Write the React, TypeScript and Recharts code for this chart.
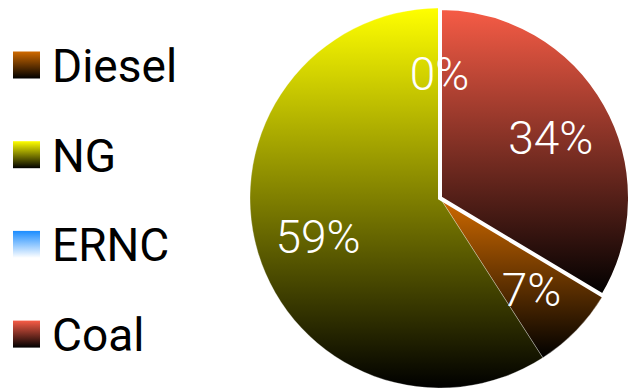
import { PieChart, Pie, Cell, Legend } from "recharts";

const sources = ["Diesel", "NG", "ERNC", "Coal"];
const shares = [7.3, 59.0, 0.1, 33.6];

const topColors = ["#d06a00", "#ffff00", "#1a8cff", "#f75c46"];
const bottomColors = ["#000000", "#000000", "#ffffff", "#000000"];

const data = sources.map((name, i) => ({ name, value: shares[i] }));

const FONT = "'Helvetica Neue', Roboto, 'Liberation Sans', Arial, sans-serif";

const RADIAN = Math.PI / 180;

const renderLabel = (props: any) => {
  const { cx, cy, midAngle, outerRadius, percent } = props;
  const r = outerRadius * 0.67;
  const x = cx + r * Math.cos(-midAngle * RADIAN);
  const y = cy + r * Math.sin(-midAngle * RADIAN) + 3;
  return (
    <text
      x={x}
      y={y}
      fill="#ffffff"
      textAnchor="middle"
      dominantBaseline="central"
      fontSize={46}
      fontWeight={300}
      fontFamily={FONT}
    >
      {`${Math.round(percent * 100)}%`}
    </text>
  );
};

const renderLegend = () => (
  <svg width={200} height={388}>
    <defs>
      {sources.map((s, i) => (
        <linearGradient key={s} id={`lg-${i}`} x1="0" y1="0" x2="0" y2="1">
          <stop offset="0%" stopColor={topColors[i]} />
          <stop offset="100%" stopColor={bottomColors[i]} />
        </linearGradient>
      ))}
    </defs>
    {sources.map((s, i) => {
      const cy = 65 + i * 89.7;
      return (
        <g key={s}>
          <rect x={13} y={cy - 13.5} width={27} height={27} fill={`url(#lg-${i})`} />
          <text
            x={52}
            y={cy + 17}
            fontSize={46}
            fontFamily={FONT}
            fill="#000000"
          >
            {s}
          </text>
        </g>
      );
    })}
  </svg>
);

export default function App() {
  const coalShare = shares[3] / shares.reduce((a, b) => a + b, 0);
  const start = 90 - 360 * coalShare;
  return (
    <div style={{ position: "absolute", left: 0, top: 0, background: "#fff" }}>
      <PieChart width={631} height={388} margin={{ top: 0, right: 0, bottom: 0, left: 0 }}>
        <defs>
          {sources.map((s, i) => (
            <linearGradient key={s} id={`pg-${i}`} x1="0" y1="0" x2="0" y2="1">
              <stop offset="0%" stopColor={topColors[i]} />
              <stop offset="100%" stopColor={bottomColors[i]} />
            </linearGradient>
          ))}
        </defs>
        <Legend
          layout="vertical"
          align="center"
          verticalAlign="middle"
          content={renderLegend}
          wrapperStyle={{ left: 0, top: 0, width: 200, height: 388 }}
        />
        <Pie
          data={data}
          dataKey="value"
          nameKey="name"
          cx={440}
          cy={198}
          outerRadius={190}
          startAngle={start}
          endAngle={start - 360}
          label={renderLabel}
          labelLine={false}
          isAnimationActive={false}
        >
          {data.map((d, i) => (
            <Cell
              key={d.name}
              fill={`url(#pg-${i})`}
              stroke="#ffffff"
              strokeWidth={d.name === "Coal" ? 4 : 0.6}
              strokeOpacity={d.name === "Coal" ? 1 : 0.5}
            />
          ))}
        </Pie>
      </PieChart>
    </div>
  );
}
